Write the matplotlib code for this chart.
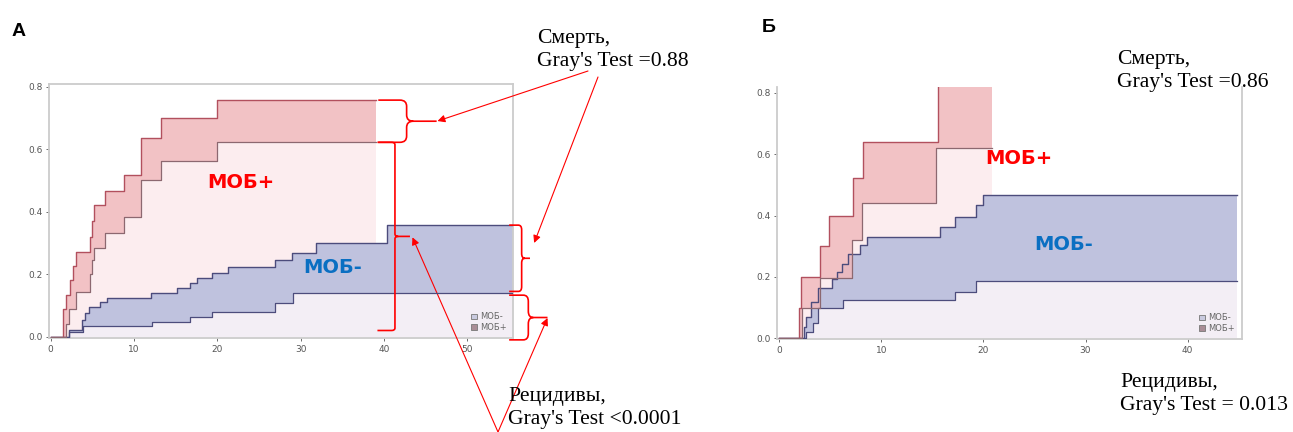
import numpy as np
import matplotlib.pyplot as plt
from matplotlib.patches import Patch, PathPatch
from matplotlib.path import Path

W, H = 1293, 432

# --- panel A: cumulative incidence, months ---
a_pos_hi_x = [0, 1.44, 1.85, 2.3, 2.72, 3.04, 4.7, 4.9, 5.2, 6.5, 8.8, 10.8, 13.2, 19.9, 39.0]
a_pos_hi_y = [0, .09, .135, .18, .225, .272, .32, .37, .42, .467, .517, .637, .699, .757, .757]
a_pos_lo_x = [0, 1.8, 2.2, 3.0, 4.7, 4.95, 5.2, 6.5, 8.8, 10.8, 13.2, 19.9, 39.0]
a_pos_lo_y = [0, .04, .09, .142, .2, .245, .283, .333, .384, .5, .562, .622, .622]
a_neg_hi_x = [0, 2.24, 3.7, 4.1, 4.64, 5.9, 6.7, 12.0, 15.1, 16.7, 17.5, 19.3, 21.3, 26.9, 28.9, 31.8, 40.4, 55.5]
a_neg_hi_y = [0, .023, .053, .075, .096, .112, .123, .139, .155, .171, .187, .203, .222, .247, .269, .301, .357, .357]
a_neg_lo_x = [0, 2.2, 3.9, 12.1, 16.7, 19.3, 26.9, 29.1, 55.5]
a_neg_lo_y = [0, .016, .035, .048, .064, .08, .107, .139, .139]

# --- panel B ---
b_pos_hi_x = [0, 1.96, 2.15, 4.0, 4.9, 7.27, 8.19, 15.6, 20.8]
b_pos_hi_y = [0, .098, .199, .30, .40, .521, .64, .86, .86]
b_pos_lo_x = [0, 2.2, 4.0, 7.1, 8.1, 15.4, 20.8]
b_pos_lo_y = [0, .1, .195, .32, .44, .62, .62]
b_neg_hi_x = [0, 2.4, 2.64, 3.1, 3.85, 5.15, 5.64, 6.13, 6.78, 7.9, 8.6, 15.75, 17.2, 19.3, 20.0, 44.8]
b_neg_hi_y = [0, .038, .07, .12, .163, .192, .217, .241, .275, .304, .331, .364, .396, .434, .467, .467]
b_neg_lo_x = [0, 2.64, 3.36, 3.85, 6.3, 17.2, 19.3, 44.8]
b_neg_lo_y = [0, .02, .049, .098, .125, .152, .188, .188]

yticks = [0.0, 0.2, 0.4, 0.6, 0.8]
a_xticks = [0, 10, 20, 30, 40, 50]
b_xticks = [0, 10, 20, 30, 40]
groups = ["МОБ-", "МОБ+"]

RED_BAND = "#f0b8bb"
BLUE_BAND = "#bfc2de"
RED_LINE = "#b2505e"
RED_LO_LINE = "#8c6870"
BLUE_LINE = "#4c4c7c"
RED_TXT = "#ff0000"
BLUE_TXT = "#0a6fc2"


def step_at(xs, ys, grid):
    idx = np.searchsorted(xs, grid, side="right") - 1
    return np.asarray(ys)[np.clip(idx, 0, len(ys) - 1)]


def band(ax, hx, hy, lx, ly, color, line_hi, line_lo, alpha=1.0, z=2):
    grid = np.union1d(hx, lx)
    hi = step_at(hx, hy, grid)
    lo = step_at(lx, ly, grid)
    ax.fill_between(grid, lo, hi, step="post", color=color, lw=0, alpha=alpha, zorder=z)
    ax.step(hx, hy, where="post", color=line_hi, lw=1.0, zorder=z + 2)
    ax.step(lx, ly, where="post", color=line_lo, lw=0.9, zorder=z + 2)


def panel(ax, pos, neg, xlim, ylim, xticks):
    (phx, phy, plx, ply), (nhx, nhy, nlx, nly) = pos, neg
    # pale shading under the lower bounds
    ax.fill_between(plx, 0, ply, step="post", color="#fcedef", lw=0, zorder=1)
    ax.fill_between(nlx, 0, nly, step="post", color="#f3eef5", lw=0, zorder=1)
    band(ax, nhx, nhy, nlx, nly, BLUE_BAND, BLUE_LINE, BLUE_LINE, z=2)
    band(ax, phx, phy, plx, ply, RED_BAND, RED_LINE, RED_LO_LINE, alpha=0.85, z=3)
    ax.set_xlim(*xlim)
    ax.set_ylim(*ylim)
    ax.set_xticks(xticks)
    ax.set_yticks(yticks)
    ax.set_yticklabels([f"{v:.1f}" for v in yticks])
    ax.tick_params(labelsize=6.5, colors="#555555", length=2, width=0.6, pad=3)
    for s in ax.spines.values():
        s.set_color("#cccccc")
        s.set_linewidth(1.3)
    handles = [Patch(facecolor="#c9cadf", edgecolor="#777777", lw=0.6),
               Patch(facecolor="#a98d96", edgecolor="#777777", lw=0.6)]
    ax.legend(handles, groups, loc="lower right", fontsize=6, frameon=False,
              handlelength=0.7, handleheight=0.7, handletextpad=0.4,
              labelspacing=0.15, borderaxespad=0.4, labelcolor="#666666")


def brace(ax, x0, x1, xt, ytop, ybot, dx=0.5, dy=0.012):
    ym = (ytop + ybot) / 2
    verts = [(x0, ytop), (x1 - dx, ytop), (x1, ytop), (x1, ytop - dy),
             (x1, ym + dy), (x1, ym), (x1 + dx, ym), (xt, ym),
             (x1 + dx, ym), (x1, ym), (x1, ym - dy),
             (x1, ybot + dy), (x1, ybot), (x1 - dx, ybot), (x0, ybot)]
    codes = [Path.MOVETO, Path.LINETO, Path.CURVE3, Path.CURVE3,
             Path.LINETO, Path.CURVE3, Path.CURVE3, Path.LINETO,
             Path.MOVETO, Path.CURVE3, Path.CURVE3,
             Path.LINETO, Path.CURVE3, Path.CURVE3, Path.LINETO]
    ax.add_patch(PathPatch(Path(verts, codes), fill=False, ec="red", lw=1.2,
                           clip_on=False, zorder=6))


def fig_xy(px, py):
    return px / W, 1 - py / H


plt.rcParams["font.family"] = ["DejaVu Sans"]
fig = plt.figure(figsize=(W / 100, H / 100), dpi=100)

ax_a = fig.add_axes([0.0381, 0.2169, 0.3589, 0.5887])
panel(ax_a, (a_pos_hi_x, a_pos_hi_y, a_pos_lo_x, a_pos_lo_y),
      (a_neg_hi_x, a_neg_hi_y, a_neg_lo_x, a_neg_lo_y),
      (-0.17, 55.5), (-0.005, 0.8086), a_xticks)

ax_b = fig.add_axes([0.6012, 0.2146, 0.3592, 0.5850])
panel(ax_b, (b_pos_hi_x, b_pos_hi_y, b_pos_lo_x, b_pos_lo_y),
      (b_neg_hi_x, b_neg_hi_y, b_neg_lo_x, b_neg_lo_y),
      (-0.17, 45.3), (-0.003, 0.82), b_xticks)
ax_b.spines["top"].set_visible(False)

# group labels
lab = dict(fontsize=14, fontweight="bold", va="center", zorder=7)
ax_a.text(18.8, 0.492, "МОБ+", color=RED_TXT, **lab)
ax_a.text(30.3, 0.22, "МОБ-", color=BLUE_TXT, **lab)
ax_b.text(20.2, 0.587, "МОБ+", color=RED_TXT, **lab)
ax_b.text(25.0, 0.307, "МОБ-", color=BLUE_TXT, **lab)

# panel letters
fig.text(*fig_xy(12, 23), "А", fontsize=14, fontweight="bold", va="top",
         family="Liberation Sans")
fig.text(*fig_xy(762, 19), "Б", fontsize=14, fontweight="bold", va="top",
         family="Liberation Sans")

# test results
note = dict(fontsize=15.6, family="Liberation Serif", va="top", ha="left",
            linespacing=1.32)
fig.text(*fig_xy(537, 29), "Смерть,\nGray's Test =0.88", **note)
fig.text(*fig_xy(1117, 50), "Смерть,\nGray's Test =0.86", **note)
fig.text(*fig_xy(508, 387), "Рецидивы,\nGray's Test <0.0001", **note)
fig.text(*fig_xy(1120, 373), "Рецидивы,\nGray's Test = 0.013", **note)

# braces over the end of each band in panel A
brace(ax_a, 39.3, 42.7, 46.3, a_pos_hi_y[-1], a_pos_lo_y[-1], dx=0.8, dy=0.02)
brace(ax_a, 39.2, 41.3, 43.1, a_pos_lo_y[-1], 0.02, dx=0.4, dy=0.008)
brace(ax_a, 55.0, 56.5, 57.5, a_neg_hi_y[-1], 0.145, dx=0.4, dy=0.015)
brace(ax_a, 55.0, 57.3, 59.6, 0.133, -0.01, dx=0.6, dy=0.02)

arrow = dict(arrowstyle="-|>", color="red", lw=0.8, mutation_scale=11,
             shrinkA=0, shrinkB=0)
ax_a.annotate("", xy=(46.4, 0.69), xycoords="data",
              xytext=fig_xy(588, 71), textcoords="figure fraction",
              arrowprops=arrow, annotation_clip=False)
ax_a.annotate("", xy=(58.0, 0.30), xycoords="data",
              xytext=fig_xy(598, 77), textcoords="figure fraction",
              arrowprops=arrow, annotation_clip=False)
ax_a.annotate("", xy=(43.4, 0.318), xycoords="data",
              xytext=fig_xy(498, 432), textcoords="figure fraction",
              arrowprops=arrow, annotation_clip=False)
ax_a.annotate("", xy=(59.6, 0.06), xycoords="data",
              xytext=fig_xy(498, 432), textcoords="figure fraction",
              arrowprops=arrow, annotation_clip=False)

fig.savefig("out.png", dpi=100, facecolor="white")
